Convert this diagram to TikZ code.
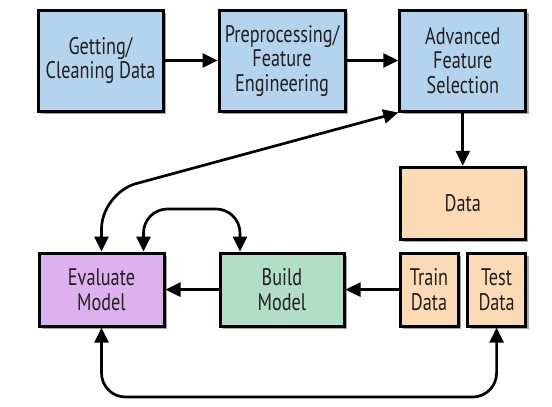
\documentclass[tikz,border=0pt]{standalone}
\usepackage{fontspec}
\setmainfont[FakeStretch=0.76]{PT Sans}
\usetikzlibrary{arrows.meta,shadows}
\definecolor{bluebox}{HTML}{B3D4EC}
\definecolor{purplebox}{HTML}{DDB1EE}
\definecolor{greenbox}{HTML}{B2DEC9}
\definecolor{orangebox}{HTML}{FDDAB6}
\definecolor{txt}{HTML}{231F20}
\tikzset{
  box/.style={draw=black, line width=3pt, rectangle, align=center,
    text=txt, font=\fontsize{24}{24.5}\selectfont, inner sep=2pt,
    drop shadow={shadow xshift=3pt, shadow yshift=-3pt, opacity=0.35, fill=black}},
  conn/.style={line width=2.7pt, draw=black, -{Triangle[length=15pt,width=14pt]}},
  conn2/.style={line width=2.7pt, draw=black, {Triangle[length=15pt,width=14pt]}-{Triangle[length=15pt,width=14pt]}},
}
\begin{document}
\begin{tikzpicture}[x=1pt,y=-1pt]
\useasboundingbox (0,0) rectangle (552,407);
\fill[white] (0,0) rectangle (552,407);
\node[box, fill=bluebox, minimum width=125pt, minimum height=101pt] (clean) at (100.5,60.5) {Getting/\\Cleaning Data};
\node[box, fill=bluebox, minimum width=126pt, minimum height=101pt] (prep) at (282,60.5) {Preprocessing/\\Feature\\Engineering};
\node[box, fill=bluebox, minimum width=126pt, minimum height=101pt] (adv) at (462.8,60.5) {Advanced\\Feature\\Selection};
\node[box, fill=orangebox, minimum width=125pt, minimum height=72pt] (data) at (462.8,203.3) {Data};
\node[box, fill=purplebox, minimum width=125pt, minimum height=73pt] (eval) at (101.5,289.6) {Evaluate\\Model};
\node[box, fill=greenbox, minimum width=124pt, minimum height=73pt] (build) at (282,289.6) {Build\\Model};
\node[box, fill=orangebox, minimum width=58pt, minimum height=73pt] (train) at (429,289.6) {Train\\Data};
\node[box, fill=orangebox, minimum width=58pt, minimum height=73pt] (test) at (496.6,289.6) {Test\\Data};
\coordinate (c1) at (101.5,193);
\coordinate (c2) at (190,209);
\coordinate (c3) at (300,397);
\draw[conn] (clean.east) -- (prep.west);
\draw[conn] (prep.east) -- (adv.west);
\draw[conn] (adv.south) -- (data.north);
\draw[conn] (train.west) -- (build.east);
\draw[conn] (build.west) -- (eval.east);
\draw[conn2, rounded corners=36pt] (adv.south west) -- (c1) -- (eval.north);
\draw[conn2, rounded corners=24pt] ([xshift=42pt]eval.north) |- (c2) -| ([xshift=-42pt]build.north);
\draw[conn2, rounded corners=24pt] (eval.south) |- (c3) -| (test.south);
\end{tikzpicture}
\end{document}
